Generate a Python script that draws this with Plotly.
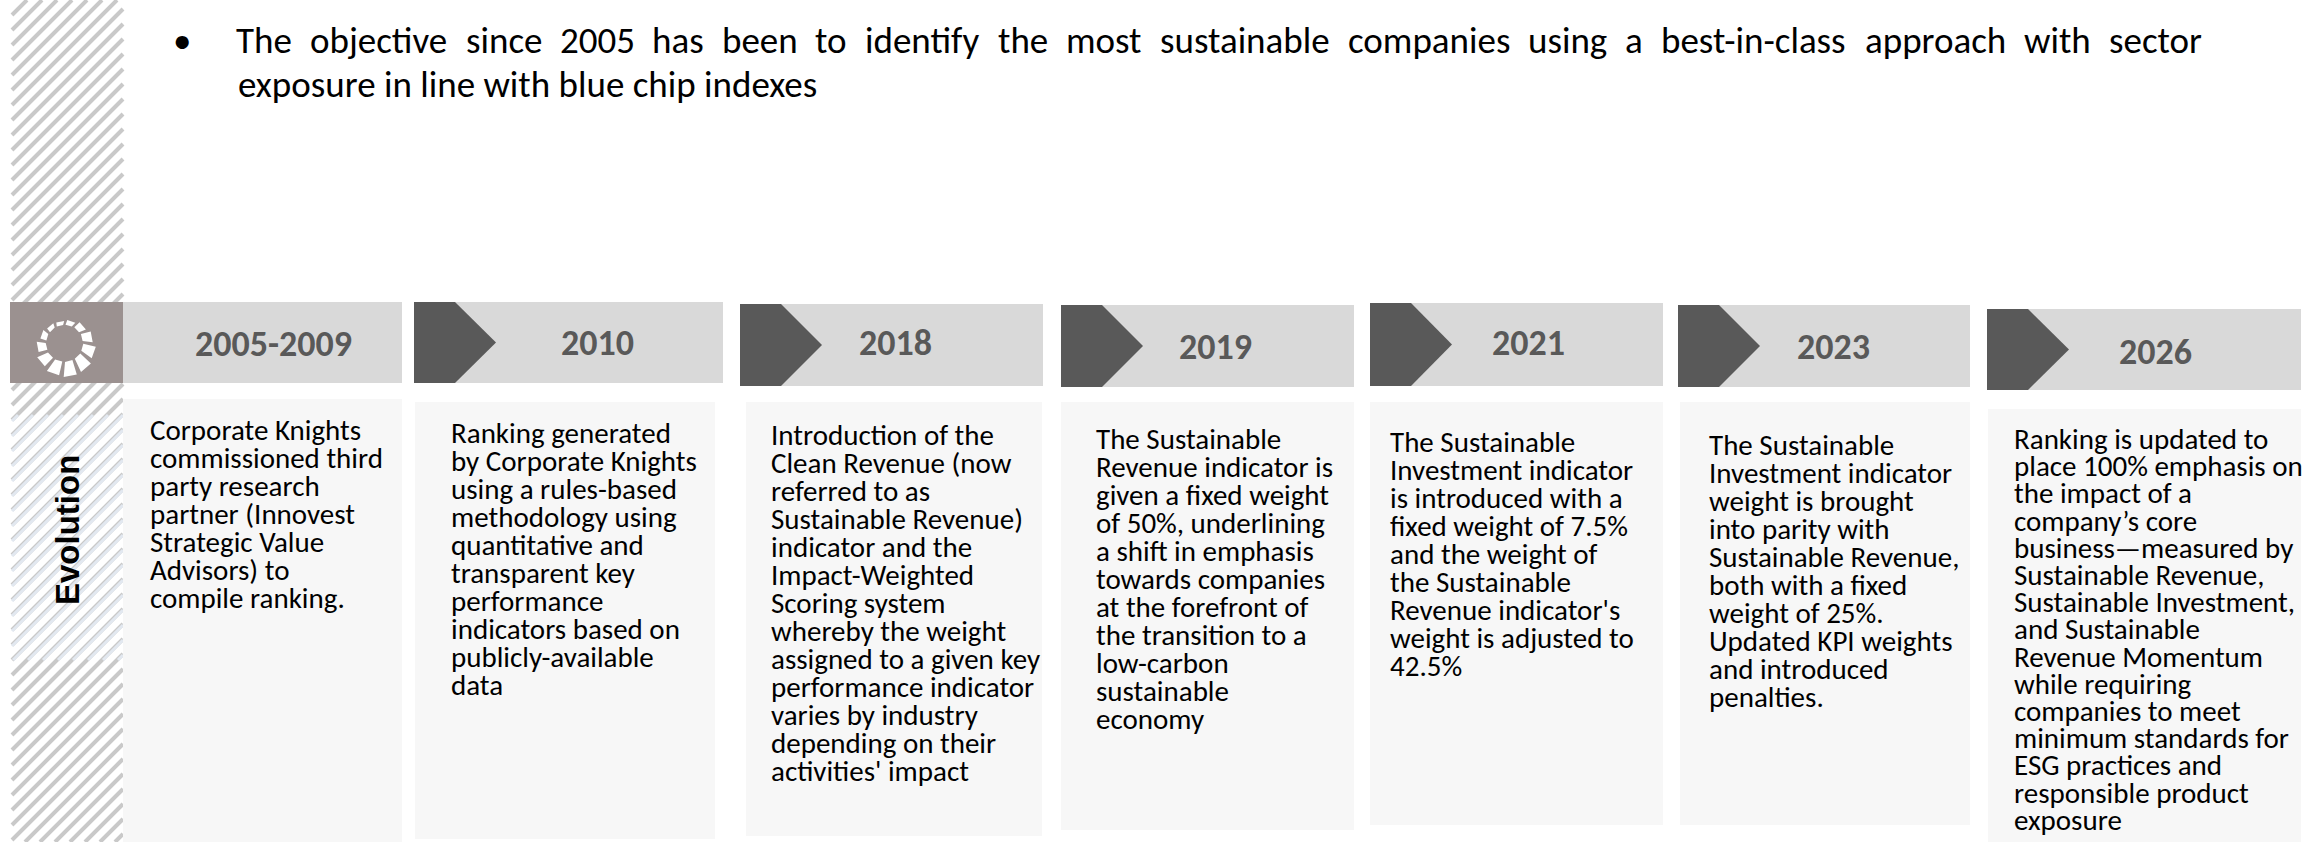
import math
import plotly.graph_objects as go

# ---------------- content ----------------
bullet = "\u2022"
title_line1 = ("The objective since 2005 has been to identify the most sustainable "
               "companies using a best-in-class approach with sector")
title_line2 = "exposure in line with blue chip indexes"
side_label = "Evolution"

years = ["2005-2009", "2010", "2018", "2019", "2021", "2023", "2026"]

desc_2005 = ["Corporate Knights", "commissioned third", "party research",
             "partner (Innovest", "Strategic Value", "Advisors) to", "compile ranking."]
desc_2010 = ["Ranking generated", "by Corporate Knights", "using a rules-based",
             "methodology using", "quantitative and", "transparent key", "performance",
             "indicators based on", "publicly-available", "data"]
desc_2018 = ["Introduction of the", "Clean Revenue (now", "referred to as",
             "Sustainable Revenue)", "indicator and the", "Impact-Weighted",
             "Scoring system", "whereby the weight", "assigned to a given key",
             "performance indicator", "varies by industry", "depending on their",
             "activities' impact"]
desc_2019 = ["The Sustainable", "Revenue indicator is", "given a fixed weight",
             "of 50%, underlining", "a shift in emphasis", "towards companies",
             "at the forefront of", "the transition to a", "low-carbon",
             "sustainable", "economy"]
desc_2021 = ["The Sustainable", "Investment indicator", "is introduced with a",
             "fixed weight of 7.5%", "and the weight of", "the Sustainable",
             "Revenue indicator's", "weight is adjusted to", "42.5%"]
desc_2023 = ["The Sustainable", "Investment indicator", "weight is brought",
             "into parity with", "Sustainable Revenue,", "both with a fixed",
             "weight of 25%.", "Updated KPI weights", "and introduced", "penalties."]
desc_2026 = ["Ranking is updated to", "place 100% emphasis on", "the impact of a",
             "company\u2019s core", "business\u2014measured by", "Sustainable Revenue,",
             "Sustainable Investment,", "and Sustainable", "Revenue Momentum",
             "while requiring", "companies to meet", "minimum standards for",
             "ESG practices and", "responsible product", "exposure"]
descriptions = [desc_2005, desc_2010, desc_2018, desc_2019, desc_2021, desc_2023, desc_2026]

# ---------------- layout (pixels of the 2318x842 page) ----------------
W, H = 2318, 842
head_boxes = [(123, 402, 302, 383), (414, 723, 302, 383), (740, 1043, 304, 386),
              (1061, 1354, 305, 387), (1370, 1663, 303, 386), (1678, 1970, 305, 387),
              (1987, 2301, 309, 390)]
year_pos = [(273, 344), (597, 343), (895, 343), (1215, 347), (1528, 343), (1833, 347), (2155, 352)]
body_boxes = [(123, 402, 399, 842), (415, 715, 402, 839), (746, 1042, 402, 836),
              (1061, 1354, 402, 830), (1370, 1663, 402, 825), (1680, 1970, 402, 825),
              (1988, 2301, 409, 842)]
text_start = [(148, 430), (449, 433), (769, 435), (1094, 439), (1388, 442), (1707, 445), (2012, 439)]
line_gap = [28, 28, 28, 28, 28, 28, 27.2]

HEAD_GRAY = "#d9d9d9"
CHEVRON = "#595959"
BODY_BG = "#f7f7f7"
ICON_BG = "#9b9190"
HATCH = "#c9c9c9"
YEAR_COL = "#595959"

BODY_FONT = "Carlito, Lato, sans-serif"

fig = go.Figure()
# invisible anchor trace for the pixel axes
fig.add_trace(go.Scatter(x=[0, W], y=[0, H], mode="markers",
                         marker=dict(opacity=0), hoverinfo="skip", showlegend=False))

shapes = []

# hatched strip on the left
def hatch_path(x0, x1, y0, y1, step, offset=0.0):
    segs = []
    c = x0 + y0 + offset
    while c <= x1 + y1:
        xa = max(x0, c - y1)
        xb = min(x1, c - y0)
        if xb > xa:
            segs.append(f"M {xa:.1f} {c - xa:.1f} L {xb:.1f} {c - xb:.1f}")
        c += step
    return " ".join(segs)

shapes.append(dict(type="path", path=hatch_path(12, 123, 0, H, 15),
                   line=dict(color=HATCH, width=4), layer="below"))
shapes.append(dict(type="path", path=hatch_path(12, 123, 415, 660, 15, offset=6),
                   line=dict(color="#e2e8f0", width=3), layer="below"))

# icon box
shapes.append(dict(type="rect", x0=10, x1=123, y0=302, y1=383,
                   fillcolor=ICON_BG, line=dict(width=0)))

# ring of segments (logo)
cx, cy = 64, 342
segs = []
n_seg = 12
for k in range(n_seg):
    a0 = math.radians(115 - k * 30)
    a1 = math.radians(115 - k * 30 - 22)
    am = (a0 + a1) / 2
    wgt = (1 + math.cos(am - math.radians(-70))) / 2
    thick = 4 + 11 * wgt
    r_in = 17 + 3 * wgt
    r_out = r_in + thick
    def pt(r, a):
        return cx + r * math.cos(a), cy - r * math.sin(a)
    p1 = pt(r_in, a0); p2 = pt(r_in, a1); p3 = pt(r_out, a1 - 0.06); p4 = pt(r_out, a0 - 0.06)
    segs.append(f"M {p1[0]:.1f} {p1[1]:.1f} L {p2[0]:.1f} {p2[1]:.1f} "
                f"L {p3[0]:.1f} {p3[1]:.1f} L {p4[0]:.1f} {p4[1]:.1f} Z")
shapes.append(dict(type="path", path=" ".join(segs), fillcolor="white", line=dict(width=0)))

# headers, chevrons and bodies
for i, (x0, x1, y0, y1) in enumerate(head_boxes):
    shapes.append(dict(type="rect", x0=x0, x1=x1, y0=y0, y1=y1,
                       fillcolor=HEAD_GRAY, line=dict(width=0)))
    if i > 0:
        ym = (y0 + y1) / 2
        shapes.append(dict(type="path",
                           path=f"M {x0} {y0} L {x0 + 41} {y0} L {x0 + 82} {ym} "
                                f"L {x0 + 41} {y1} L {x0} {y1} Z",
                           fillcolor=CHEVRON, line=dict(width=0)))
for (x0, x1, y0, y1) in body_boxes:
    shapes.append(dict(type="rect", x0=x0, x1=x1, y0=y0, y1=y1,
                       fillcolor=BODY_BG, line=dict(width=0)))

annotations = []

# title bullet + justified first line (word centres from Calibri advance widths)
calibri = {"T": .487, "h": .525, "e": .498, "o": .527, "b": .525, "j": .239, "c": .423,
           "t": .335, "i": .229, "v": .452, "s": .391, "n": .525, "0": .507, "2": .507,
           "5": .507, "a": .479, "d": .525, "f": .305, "y": .453, "m": .799, "u": .525,
           "l": .229, "p": .525, "g": .471, "-": .306, "r": .349, "w": .715}
TITLE_REF = 37
words = title_line1.split()
wpx = [sum(calibri.get(ch, .5) for ch in w) * TITLE_REF for w in words]
tx0, tx1 = 236, 2202
gap = (tx1 - tx0 - sum(wpx)) / (len(words) - 1)
x = tx0
TITLE_FONT = dict(family=BODY_FONT, size=37, color="black")
for w, wp in zip(words, wpx):
    annotations.append(dict(x=x + wp / 2, y=40, text=w, xanchor="center", yanchor="middle",
                            showarrow=False, font=TITLE_FONT, xref="x", yref="y"))
    x += wp + gap
annotations.append(dict(x=tx0, y=84, text=title_line2, xanchor="left", yanchor="middle",
                        showarrow=False, font=TITLE_FONT, xref="x", yref="y"))
annotations.append(dict(x=182, y=40, text=bullet, xanchor="center", yanchor="middle",
                        showarrow=False, font=TITLE_FONT, xref="x", yref="y"))

# side label
annotations.append(dict(x=67, y=530, text=f"<b>{side_label}</b>", textangle=-90,
                        xanchor="center", yanchor="middle", showarrow=False,
                        font=dict(family="Liberation Sans, Arial, sans-serif", size=33,
                                  color="black"), xref="x", yref="y"))

# years
for yr, (xc, yc) in zip(years, year_pos):
    annotations.append(dict(x=xc, y=yc, text=f"<b>{yr}</b>", xanchor="center",
                            yanchor="middle", showarrow=False,
                            font=dict(family=BODY_FONT, size=36, color=YEAR_COL),
                            xref="x", yref="y"))

# descriptions, one annotation per line
for lines, (xs, ys), lg in zip(descriptions, text_start, line_gap):
    for j, ln in enumerate(lines):
        annotations.append(dict(x=xs, y=ys + j * lg, text=ln, xanchor="left",
                                yanchor="middle", showarrow=False,
                                font=dict(family=BODY_FONT, size=29, color="black"),
                                xref="x", yref="y"))

fig.update_layout(
    width=W, height=H,
    margin=dict(l=0, r=0, t=0, b=0),
    paper_bgcolor="white", plot_bgcolor="white",
    xaxis=dict(range=[0, W], visible=False, fixedrange=True),
    yaxis=dict(range=[H, 0], visible=False, fixedrange=True),
    shapes=shapes, annotations=annotations, showlegend=False,
)

fig.write_html("out.html", config={"displayModeBar": False},
               post_script="document.body.style.margin='0px';document.body.style.padding='0px';")
